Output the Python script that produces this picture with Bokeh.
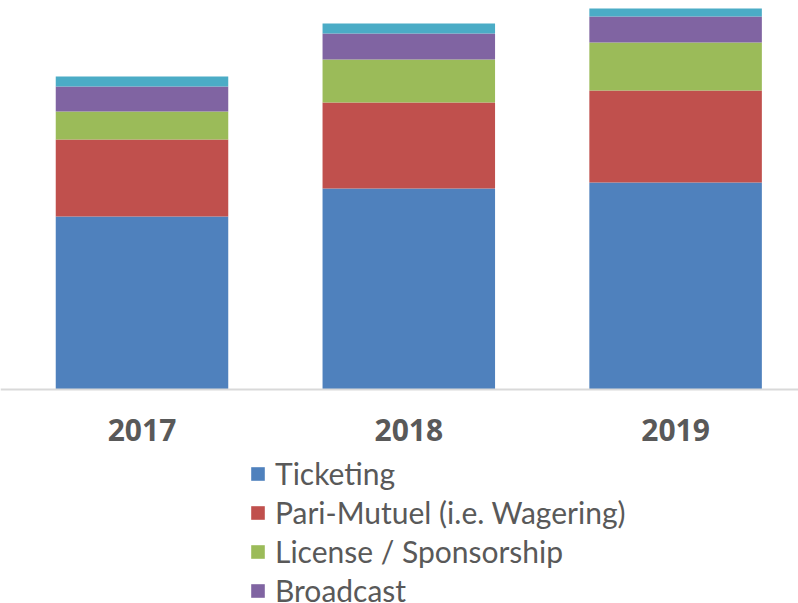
from bokeh.plotting import figure
from bokeh.models import Range1d, Legend, LegendItem, Span, ColumnDataSource, LabelSet
from bokeh.core.properties import value
from bokeh.embed import file_html
from bokeh.resources import INLINE

# ---- data ----
years = ["2017", "2018", "2019"]
series = ["Ticketing", "Pari-Mutuel (i.e. Wagering)", "License / Sponsorship", "Broadcast", "Other"]
ticketing = [173, 201, 207]
pari_mutuel = [77, 86, 92]
license_sponsorship = [28, 43, 48]
broadcast = [25, 26, 26]
other = [10, 10, 8]
colors = ["#4F81BD", "#C0504D", "#9BBB59", "#8064A2", "#4BACC6"]

keys = ["ticketing", "pari", "license", "broadcast", "other"]
src = ColumnDataSource(dict(
    x=list(range(len(years))),
    ticketing=ticketing, pari=pari_mutuel, license=license_sponsorship,
    broadcast=broadcast, other=other, year=years, y0=[0] * len(years),
))

W, H = 798, 603
unit = 266.8
x0 = -141.5 / unit
base = 389
p = figure(width=W, height=H, output_backend="svg", toolbar_location=None,
           x_range=Range1d(x0, x0 + W / unit), y_range=Range1d(base - H, base),
           min_border=0, min_border_left=0, min_border_right=0,
           min_border_top=0, min_border_bottom=0)
p.axis.visible = False
p.grid.visible = False
p.outline_line_color = None
p.background_fill_color = "white"

renderers = p.vbar_stack(keys, x="x", width=0.6466, source=src, color=colors, line_color=None)

p.add_layout(Span(location=0, dimension="width", line_color="#D9D9D9", line_width=2))

labels = LabelSet(x="x", y="y0", text="year", source=src, y_offset=-51,
                  text_align="center", text_baseline="alphabetic",
                  text_font=value("Noto Sans"), text_font_style="bold",
                  text_font_size="30px", text_color="#595959")
p.add_layout(labels)

items = [LegendItem(label=series[i], renderers=[renderers[i]]) for i in range(4)]
legend = Legend(items=items, location=(249, -5), orientation="vertical",
                padding=0, margin=0, spacing=3, border_line_color=None,
                background_fill_alpha=0, glyph_width=17, glyph_height=17,
                label_standoff=9, label_text_font="Lato", label_text_font_size="30px",
                label_text_color="#595959", label_height=36)
p.add_layout(legend)

open("out.html", "w").write(file_html(p, INLINE))
